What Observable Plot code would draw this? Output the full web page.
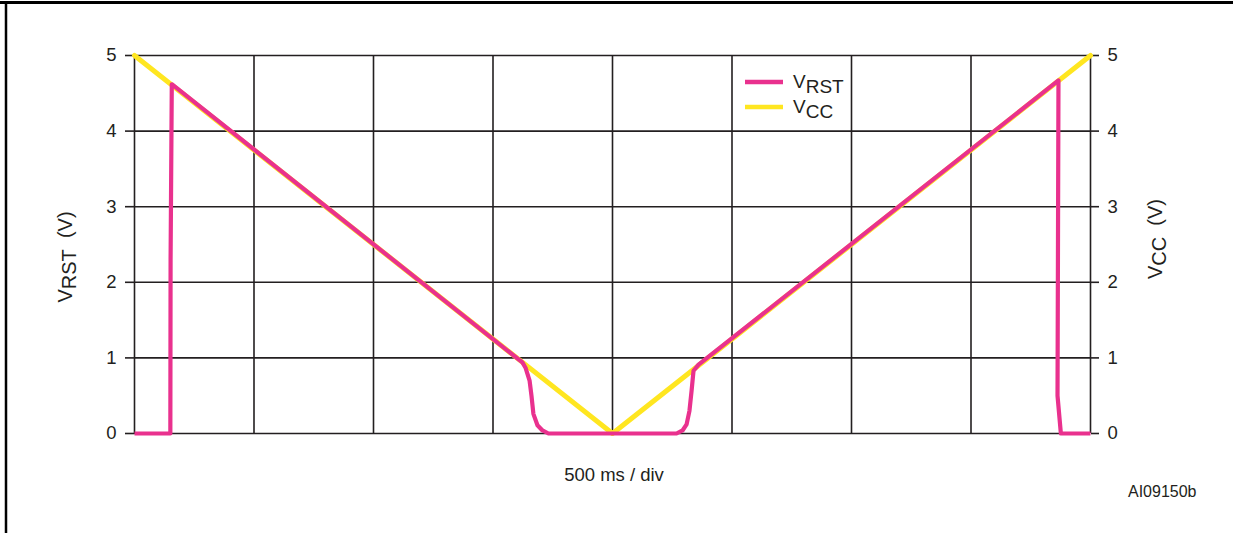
<!DOCTYPE html>
<html>
<head>
<meta charset="utf-8">
<script src="https://cdn.jsdelivr.net/npm/d3@7"></script>
<script src="https://cdn.jsdelivr.net/npm/@observablehq/plot@0.6"></script>
<style>
  html, body { margin: 0; padding: 0; background: #fff; }
  #chart svg { display: block; }
</style>
</head>
<body>
<div id="chart"></div>
<script>
// time axis in ms (500 ms / div, 8 divisions)
const xGridMs = [0, 500, 1000, 1500, 2000, 2500, 3000, 3500, 4000];
const yTicks = [0, 1, 2, 3, 4, 5];

// VCC ramp
const vccTime = [0, 2000, 4000];
const vccVolt = [5, 0, 5];

// VRST trace
const rstTime = [0, 150, 151, 156, 1623, 1636, 1653, 1661, 1669, 1686, 1707, 1732, 2268, 2293, 2310, 2322, 2331, 2339, 2360, 3866, 3862, 3876, 4000];
const rstVolt = [0, 0, 2.3, 4.62, 0.94, 0.87, 0.70, 0.50, 0.26, 0.11, 0.04, 0.0, 0.0, 0.04, 0.12, 0.30, 0.57, 0.83, 0.91, 4.67, 0.5, 0, 0];

const legendNames = ["RST", "CC"];
const xLabel = "500 ms / div";
const figCode = "AI09150b";

const pink = "#e9318e";
const yellow = "#ffe620";
const ink = "#231f20";

const vcc = vccTime.map((t, i) => ({t, v: vccVolt[i]}));
const rst = rstTime.map((t, i) => ({t, v: rstVolt[i]}));

const chart = Plot.plot({
  width: 1233,
  height: 533,
  marginLeft: 134,
  marginRight: 143,
  marginTop: 55,
  marginBottom: 100,
  x: {domain: [0, 4000], axis: null},
  y: {domain: [0, 5], axis: null},
  style: {fontFamily: "'Liberation Sans', Arial, Helvetica, sans-serif", fontSize: "18px", color: ink, background: "#fff"},
  marks: [
    Plot.gridX(xGridMs, {stroke: ink, strokeOpacity: 1, strokeWidth: 1.6}),
    Plot.gridY(yTicks, {stroke: ink, strokeOpacity: 1, strokeWidth: 1.6}),
    Plot.axisY(yTicks, {anchor: "left", tickSize: 9, tickPadding: 9, tickFormat: d3.format("d"), label: null, stroke: ink, strokeWidth: 1.6, fill: ink, fontSize: 18.5}),
    Plot.axisY(yTicks, {anchor: "right", tickSize: 8, tickPadding: 9, tickFormat: d3.format("d"), label: null, stroke: ink, strokeWidth: 1.6, fill: ink, fontSize: 18.5}),
    Plot.line(vcc, {x: "t", y: "v", stroke: yellow, strokeWidth: 5, strokeLinejoin: "round"}),
    Plot.line(rst, {x: "t", y: "v", stroke: pink, strokeWidth: 4.2, strokeLinejoin: "round", strokeLinecap: "butt"})
  ]
});

document.getElementById("chart").appendChild(chart);

const svg = d3.select(chart);
const font = "'Liberation Sans', Arial, Helvetica, sans-serif";

// outer frame (top and left rules)
svg.append("line").attr("x1", 0).attr("x2", 1233).attr("y1", 2.5).attr("y2", 2.5).attr("stroke", "#000").attr("stroke-width", 3);
svg.append("line").attr("x1", 6).attr("x2", 6).attr("y1", 1).attr("y2", 533).attr("stroke", "#000").attr("stroke-width", 2.5);

// axis titles with subscripts
function subLabel(g, main, sub, tail, size, subDy) {
  const t = g.append("text").attr("font-family", font).attr("font-size", size).attr("fill", ink).attr("text-anchor", "middle");
  t.append("tspan").text(main);
  t.append("tspan").attr("dy", subDy).text(sub);
  if (tail) t.append("tspan").attr("dy", -subDy).text(tail);
  return t;
}
const gl = svg.append("g").attr("transform", "translate(72,257) rotate(-90)");
subLabel(gl, "V", legendNames[0], "\u00a0\u00a0(V)", 20, 4);
const gr = svg.append("g").attr("transform", "translate(1162,239) rotate(-90)");
subLabel(gr, "V", legendNames[1], "\u00a0\u00a0(V)", 20, 4);

// x label and figure code
svg.append("text").attr("x", 614).attr("y", 481).attr("text-anchor", "middle").attr("font-family", font).attr("font-size", 18.5).attr("fill", ink).text(xLabel);
svg.append("text").attr("x", 1128).attr("y", 497).attr("text-anchor", "start").attr("font-family", font).attr("font-size", 16).attr("fill", ink).text(figCode);

// legend
const legendColors = [pink, yellow];
legendNames.forEach((name, i) => {
  const y = 82 + i * 25;
  svg.append("line").attr("x1", 745).attr("x2", 783).attr("y1", y).attr("y2", y).attr("stroke", legendColors[i]).attr("stroke-width", 4.5);
  const t = svg.append("text").attr("x", 793).attr("y", y + 6).attr("text-anchor", "start").attr("font-family", font).attr("font-size", 19).attr("fill", ink);
  t.append("tspan").text("V");
  t.append("tspan").attr("dy", 5).text(name);
});
</script>
</body>
</html>
